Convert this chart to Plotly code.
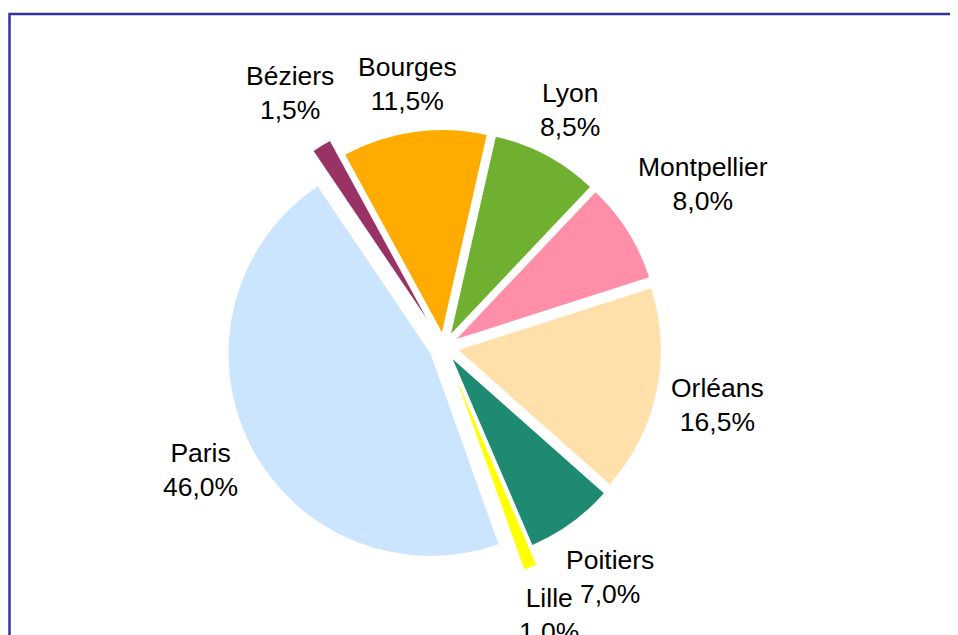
import math
import plotly.graph_objects as go

labels = ["Béziers", "Bourges", "Lyon", "Montpellier", "Orléans", "Poitiers", "Lille", "Paris"]
values = [1.5, 11.5, 8.5, 8.0, 16.5, 7.0, 1.0, 46.0]
pulls = [0.165, 0.074, 0.074, 0.074, 0.074, 0.074, 0.17, 0.074]
colors = ["#993366", "#ffab00", "#70b030", "#ff8fa8", "#ffe0aa", "#1f8a72", "#ffff00", "#cce5ff"]

W, H = 950, 627
cx, cy = 436, 339          # pie centre in figure pixels (from top-left)
half = 236.5               # half of the pie domain size in pixels
rotation = -34
font_size = 26.5
line_h = 32
gap = 10

radius = half / (1 + max(pulls))
total = sum(values)

fig = go.Figure(go.Pie(
    labels=labels,
    values=values,
    sort=False,
    direction="clockwise",
    rotation=rotation,
    pull=pulls,
    automargin=False,
    marker=dict(colors=colors, line=dict(width=0)),
    textinfo="none",
    showlegend=False,
    hoverinfo="label+percent",
    domain=dict(x=[(cx - half) / W, (cx + half) / W],
                y=[(H - cy - half) / H, (H - cy + half) / H]),
))

# category labels placed just outside each slice's outer end
annotations = []
start = rotation
for lab, val, pl in zip(labels, values, pulls):
    span = val / total * 360
    mid = math.radians(start + span / 2)
    start += span
    pct = f"{val / total * 100:.1f}".replace(".", ",") + "%"
    w = max(len(lab), len(pct) * 1.05) * font_size * 0.5
    h = 2 * line_h
    s, c = math.sin(mid), math.cos(mid)
    d = radius * (1 + pl) + gap + (w / 2) * abs(s) + (h / 2) * abs(c)
    px = cx + d * s
    py = cy - d * c
    annotations.append(dict(
        x=px / W, y=1 - py / H, xref="paper", yref="paper",
        text=f"{lab}<br>{pct}", showarrow=False,
        xanchor="center", yanchor="middle", align="center",
        font=dict(family="Liberation Sans, Arial, sans-serif", size=font_size, color="#000000"),
    ))

fig.update_layout(
    width=W, height=H,
    margin=dict(l=0, r=0, t=0, b=0, autoexpand=False),
    paper_bgcolor="#ffffff",
    annotations=annotations,
    shapes=[dict(type="rect", xref="paper", yref="paper",
                 x0=1.5 / W, x1=1.05, y0=-0.05, y1=1 - 6 / H,
                 line=dict(color="#333399", width=2.5), fillcolor="rgba(0,0,0,0)")],
)

fig.write_html("out.html")
